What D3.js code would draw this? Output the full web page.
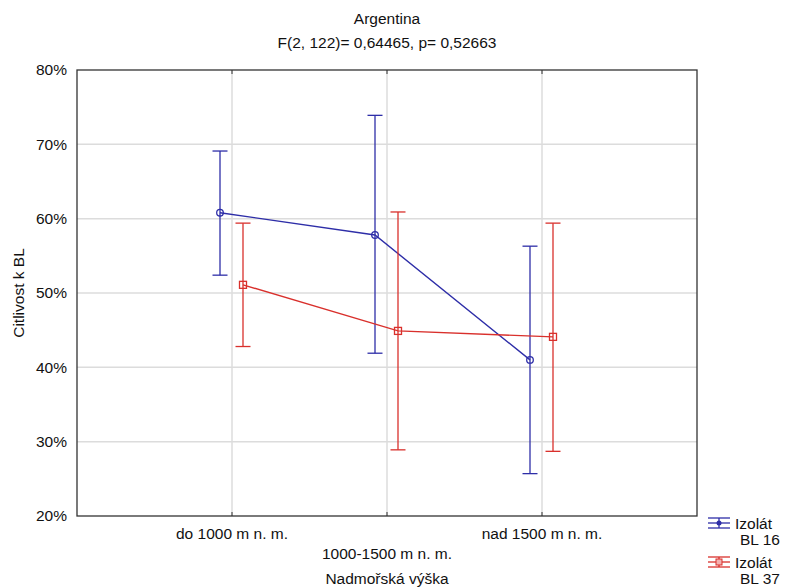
<!DOCTYPE html>
<html>
<head>
<meta charset="utf-8">
<script src="https://cdn.jsdelivr.net/npm/d3@7"></script>
<style>
  body { margin: 0; background: #fff; }
  text { font-family: "Liberation Sans", Arial, sans-serif; fill: #111; }
</style>
</head>
<body>
<div id="chart"></div>
<script>
// Chart data
var categories = ["do 1000 m n. m.", "1000-1500 m n. m.", "nad 1500 m n. m."];
var yTicks = [0.2, 0.3, 0.4, 0.5, 0.6, 0.7, 0.8];

var bl16Mean  = [0.608, 0.578, 0.410];
var bl16Upper = [0.691, 0.739, 0.563];
var bl16Lower = [0.524, 0.419, 0.257];

var bl37Mean  = [0.511, 0.449, 0.441];
var bl37Upper = [0.594, 0.609, 0.594];
var bl37Lower = [0.428, 0.289, 0.287];

var width = 788, height = 588;
var margin = {top: 70, left: 77, right: 91, bottom: 72};
var fs = 15.5;

var svg = d3.select("#chart").append("svg")
    .attr("width", width)
    .attr("height", height);

var x = d3.scalePoint()
    .domain(categories)
    .range([margin.left, width - margin.right])
    .padding(1);

var y = d3.scaleLinear()
    .domain([0.2, 0.8])
    .range([height - margin.bottom, margin.top]);

// grid
svg.append("g").selectAll("line.hgrid")
    .data(yTicks.slice(1, -1))
    .enter().append("line")
    .attr("x1", margin.left).attr("x2", width - margin.right)
    .attr("y1", function (d) { return y(d); })
    .attr("y2", function (d) { return y(d); })
    .attr("stroke", "#dcdcdc").attr("stroke-width", 1.5);

svg.append("g").selectAll("line.vgrid")
    .data(categories)
    .enter().append("line")
    .attr("x1", function (d) { return x(d); })
    .attr("x2", function (d) { return x(d); })
    .attr("y1", margin.top).attr("y2", height - margin.bottom)
    .attr("stroke", "#dcdcdc").attr("stroke-width", 1.5);

// frame
svg.append("rect")
    .attr("x", margin.left).attr("y", margin.top)
    .attr("width", width - margin.left - margin.right)
    .attr("height", height - margin.top - margin.bottom)
    .attr("fill", "none").attr("stroke", "#333").attr("stroke-width", 1.3);

// small ticks at top and bottom
categories.forEach(function (c) {
    svg.append("line").attr("x1", x(c)).attr("x2", x(c))
        .attr("y1", margin.top).attr("y2", margin.top + 4).attr("stroke", "#333");
    svg.append("line").attr("x1", x(c)).attr("x2", x(c))
        .attr("y1", height - margin.bottom).attr("y2", height - margin.bottom - 4).attr("stroke", "#333");
});

// y axis labels
svg.append("g").selectAll("text")
    .data(yTicks)
    .enter().append("text")
    .attr("x", margin.left - 10)
    .attr("y", function (d) { return y(d); })
    .attr("dy", "0.35em")
    .attr("text-anchor", "end")
    .attr("font-size", fs)
    .text(d3.format(".0%"));

// x axis labels (staggered)
svg.append("g").selectAll("text")
    .data(categories)
    .enter().append("text")
    .attr("x", function (d) { return x(d); })
    .attr("y", function (d, i) { return i % 2 === 0 ? 539 : 559; })
    .attr("text-anchor", "middle")
    .attr("font-size", fs)
    .text(function (d) { return d; });

svg.append("text")
    .attr("x", x(categories[1])).attr("y", 584)
    .attr("text-anchor", "middle").attr("font-size", fs)
    .text("Nadmořská výška");

svg.append("text")
    .attr("transform", "translate(24," + y(0.5) + ") rotate(-90)")
    .attr("text-anchor", "middle").attr("font-size", fs)
    .text("Citlivost k BL");

// title
svg.append("text").attr("x", x(categories[1])).attr("y", 24)
    .attr("text-anchor", "middle").attr("font-size", fs).text("Argentina");
svg.append("text").attr("x", x(categories[1])).attr("y", 48)
    .attr("text-anchor", "middle").attr("font-size", fs)
    .text("F(2, 122)= 0,64465, p= 0,52663");

// series
var series = [
    {name: "BL 16", mean: bl16Mean, upper: bl16Upper, lower: bl16Lower, color: "#2e2ea8", offset: -12, shape: "circle"},
    {name: "BL 37", mean: bl37Mean, upper: bl37Upper, lower: bl37Lower, color: "#d9302c", offset: 11, shape: "square"}
];

var cap = 7.5;

series.forEach(function (s) {
    var g = svg.append("g");
    var px = function (i) { return x(categories[i]) + s.offset; };

    // error bars
    categories.forEach(function (c, i) {
        g.append("line").attr("x1", px(i)).attr("x2", px(i))
            .attr("y1", y(s.upper[i])).attr("y2", y(s.lower[i]))
            .attr("stroke", s.color).attr("stroke-width", 1.3);
        [s.upper[i], s.lower[i]].forEach(function (v) {
            g.append("line").attr("x1", px(i) - cap).attr("x2", px(i) + cap)
                .attr("y1", y(v)).attr("y2", y(v))
                .attr("stroke", s.color).attr("stroke-width", 1.3);
        });
    });

    var line = d3.line()
        .x(function (d, i) { return px(i); })
        .y(function (d) { return y(d); });

    g.append("path").datum(s.mean)
        .attr("d", line)
        .attr("fill", "none").attr("stroke", s.color).attr("stroke-width", 1.4);

    s.mean.forEach(function (v, i) {
        if (s.shape === "circle") {
            g.append("circle").attr("cx", px(i)).attr("cy", y(v)).attr("r", 3.3)
                .attr("fill", "none").attr("stroke", s.color).attr("stroke-width", 1.3);
        } else {
            g.append("rect").attr("x", px(i) - 3.5).attr("y", y(v) - 3.5)
                .attr("width", 7).attr("height", 7)
                .attr("fill", "none").attr("stroke", s.color).attr("stroke-width", 1.3);
        }
    });
});

// legend
series.forEach(function (s, k) {
    var ly = 523 + k * 39;
    var lx = 719;
    var g = svg.append("g");
    [-5, 0, 5].forEach(function (dy) {
        g.append("line").attr("x1", lx - 11).attr("x2", lx + 11)
            .attr("y1", ly + dy).attr("y2", ly + dy)
            .attr("stroke", s.color).attr("stroke-width", 1.3);
    });
    g.append("line").attr("x1", lx).attr("x2", lx)
        .attr("y1", ly - 5).attr("y2", ly + 5)
        .attr("stroke", s.color).attr("stroke-width", 1.3);
    if (s.shape === "circle") {
        g.append("circle").attr("cx", lx).attr("cy", ly).attr("r", 2.5).attr("fill", s.color);
    } else {
        g.append("rect").attr("x", lx - 3).attr("y", ly - 3).attr("width", 6).attr("height", 6)
            .attr("fill", "#f3b0b0").attr("stroke", s.color);
    }
    g.append("text").attr("x", 735).attr("y", ly + 6).attr("font-size", fs).text("Izolát");
    g.append("text").attr("x", 740).attr("y", ly + 22).attr("font-size", fs).text(s.name);
});
</script>
</body>
</html>
